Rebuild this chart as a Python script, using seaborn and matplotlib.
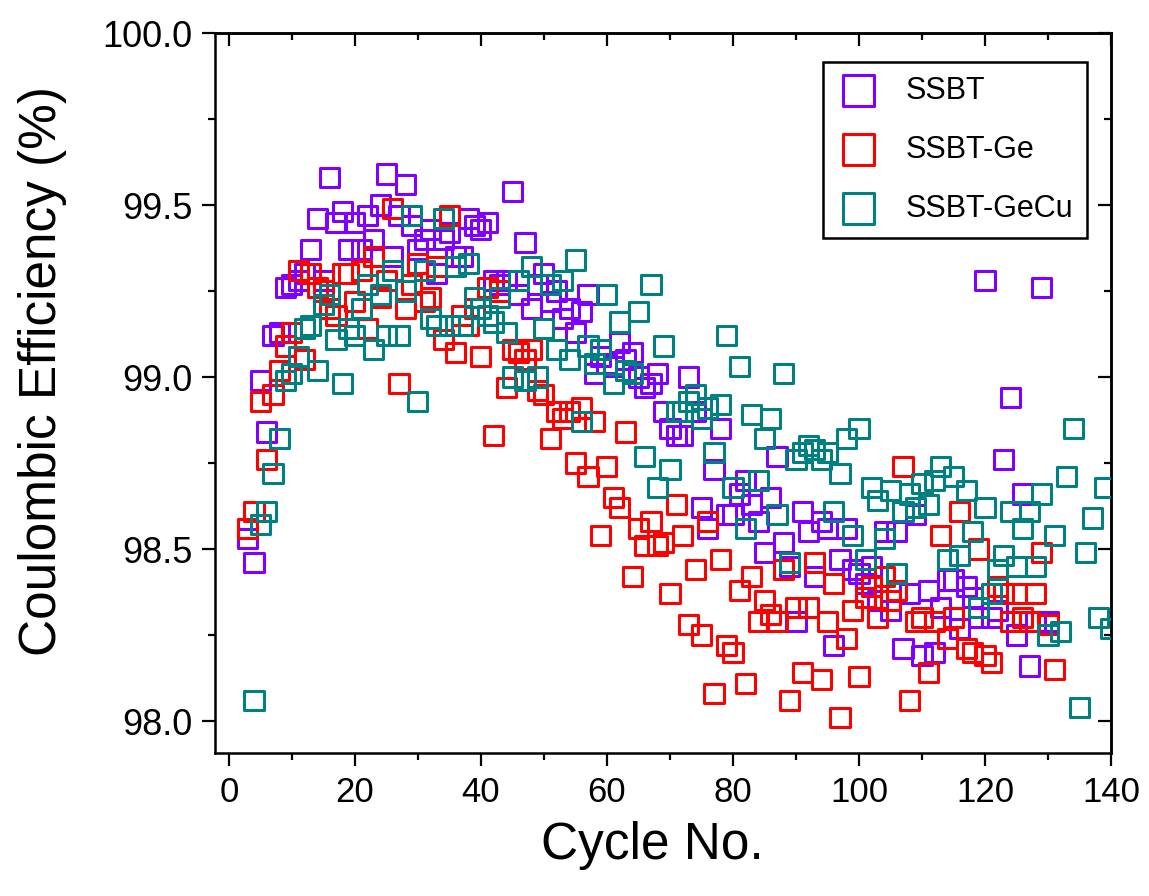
import numpy as np
import pandas as pd
import matplotlib
matplotlib.use("Agg")
import matplotlib.pyplot as plt
from matplotlib.ticker import MultipleLocator, FormatStrFormatter
import seaborn as sns

# Coulombic efficiency (%) per cycle; each list starts at the given cycle number
ssbt_start = 3
ssbt_ce = [
    98.53, 98.46, 98.99, 98.84, 99.12, 99.13, 99.26, 99.27, 99.28, 99.30,   # 3-12
    99.37, 99.46, 99.28, 99.58, 99.45, 99.48, 99.37, 99.45, 99.37, 99.47,   # 13-22
    99.40, 99.50, 99.59, 99.35, 99.47, 99.56, 99.44, 99.37, 99.40, 99.43,   # 23-32
    99.30, 99.40, 99.42, 99.35, 99.35, 99.46, 99.44, 99.43, 99.45, 99.28,   # 33-42
    99.27, 99.28, 99.54, 99.24, 99.39, 99.20, 99.27, 99.30, 99.22, 99.25,   # 43-52
    99.17, 99.20, 99.13, 99.19, 99.24, 99.01, 99.06, 99.04, 99.03, 99.10,   # 53-62
    99.05, 99.07, 99.00, 98.97, 98.98, 99.01, 98.90, 98.85, 98.83, 98.83,   # 63-72
    99.00, 98.90, 98.62, 98.56, 98.73, 98.85, 98.60, 98.60, 98.66, 98.70,   # 73-82
    98.63, 98.58, 98.49, 98.65, 98.77, 98.52, 98.45, 98.29, 98.61, 98.55,   # 83-92
    98.42, 98.58, 98.56, 98.22, 98.47, 98.56, 98.44, 98.43, 98.40, 98.45,   # 93-102
    98.35, 98.55, 98.32, 98.55, 98.21, 98.37, 98.60, 98.19, 98.38, 98.20,   # 103-112
    98.33, 98.41, 98.41, 98.27, 98.39, 98.36, 98.30, 99.28, 98.30, 98.32,   # 113-122
    98.76, 98.94, 98.25, 98.66, 98.16, 98.29, 99.26, 98.29,                 # 123-130
]

ge_start = 3
ge_ce = [
    98.56, 98.61, 98.93, 98.76, 98.95, 99.02, 99.09, 99.13, 99.31, 99.05,   # 3-12
    99.30, 99.26, 99.25, 99.20, 99.18, 99.30, 99.30, 99.22, 99.31, 99.14,   # 13-22
    99.35, 99.23, 99.28, 99.49, 98.98, 99.20, 99.27, 99.33, 99.22, 99.23,   # 23-32
    99.32, 99.11, 99.47, 99.07, 99.18, 99.15, 99.20, 99.06, 99.26, 98.83,   # 33-42
    99.25, 98.97, 99.08, 99.07, 99.05, 99.08, 98.96, 98.95, 98.82, 98.90,   # 43-52
    98.88, 98.90, 98.75, 98.91, 98.71, 98.87, 98.54, 98.74, 98.65, 98.62,   # 53-62
    98.84, 98.42, 98.56, 98.51, 98.58, 98.51, 98.52, 98.37, 98.63, 98.54,   # 63-72
    98.28, 98.44, 98.25, 98.58, 98.08, 98.47, 98.22, 98.20, 98.38, 98.11,   # 73-82
    98.42, 98.29, 98.35, 98.31, 98.29, 98.44, 98.06, 98.33, 98.14, 98.33,   # 83-92
    98.46, 98.12, 98.29, 98.40, 98.01, 98.24, 98.32, 98.13, 98.36, 98.39,   # 93-102
    98.30, 98.42, 98.35, 98.38, 98.74, 98.06, 98.29, 98.30, 98.14, 98.29,   # 103-112
    98.54, 98.24, 98.30, 98.61, 98.21, 98.20, 98.50, 98.19, 98.17, 98.39,   # 113-122
    98.37, 98.29, 98.37, 98.30, 98.29, 98.37, 98.49, 98.28, 98.15,          # 123-131
]

gecu_start = 4
gecu_ce = [
    98.06, 98.57, 98.61, 98.72, 98.82, 98.99, 99.01, 99.06, 99.14, 99.15,   # 4-13
    99.02, 99.21, 99.24, 99.11, 98.98, 99.14, 99.12, 99.20, 99.27, 99.08,   # 14-23
    99.24, 99.12, 99.31, 99.12, 99.25, 99.47, 98.93, 99.31, 99.17, 99.15,   # 24-33
    99.46, 99.15, 99.32, 99.15, 99.33, 99.23, 99.20, 99.18, 99.16, 99.23,   # 34-43
    99.13, 99.00, 99.28, 98.99, 99.32, 99.00, 99.14, 99.27, 99.08, 99.28,   # 44-53
    99.05, 99.34, 98.87, 99.09, 99.04, 99.08, 99.24, 98.98, 99.16, 99.02,   # 54-63
    99.01, 99.19, 98.77, 99.27, 98.68, 99.09, 98.73, 98.90, 98.90, 98.93,   # 64-73
    98.95, 98.88, 98.91, 98.78, 98.92, 99.12, 98.68, 99.03, 98.56, 98.89,   # 74-83
    98.70, 98.82, 98.88, 98.60, 99.01, 98.46, 98.76, 98.78, 98.80, 98.79,   # 84-93
    98.76, 98.78, 98.61, 98.72, 98.82, 98.54, 98.85, 98.47, 98.68, 98.64,   # 94-103
    98.53, 98.67, 98.43, 98.61, 98.66, 98.62, 98.69, 98.63, 98.70, 98.74,   # 104-113
    98.47, 98.71, 98.48, 98.67, 98.55, 98.33, 98.62, 98.37, 98.44, 98.48,   # 114-123
    98.61, 98.45, 98.56, 98.61, 98.45, 98.66, 98.25, 98.54, 98.26, 98.71,   # 124-133
    98.85, 98.04, 98.49, 98.59, 98.30, 98.68, 98.27,                        # 134-140
]

series_names = ["SSBT", "SSBT-Ge", "SSBT-GeCu"]
series_starts = [ssbt_start, ge_start, gecu_start]
series_values = [ssbt_ce, ge_ce, gecu_ce]
series_colors = ["#8000FF", "#FF0000", "#008080"]

x_ticks = [0, 20, 40, 60, 80, 100, 120, 140]
y_ticks = [98.0, 98.5, 99.0, 99.5, 100.0]

frames = []
for name, start, vals in zip(series_names, series_starts, series_values):
    frames.append(pd.DataFrame({
        "Cycle": np.arange(start, start + len(vals)),
        "CE": vals,
        "Sample": name,
    }))
df = pd.concat(frames, ignore_index=True)

sns.set_style("ticks")
plt.rcParams["font.family"] = ["Liberation Sans", "DejaVu Sans"]
plt.rcParams["text.color"] = "black"
plt.rcParams["axes.labelcolor"] = "black"
plt.rcParams["xtick.color"] = "black"
plt.rcParams["ytick.color"] = "black"

W, H = 1149, 896
fig = plt.figure(figsize=(W / 100, H / 100), dpi=100)
fig.patch.set_facecolor("white")
ax = fig.add_axes([215 / W, (H - 753) / H, 896 / W, 720 / H])
ax.set_facecolor("white")

for name, color in zip(series_names, series_colors):
    sub = df[df["Sample"] == name]
    sns.scatterplot(data=sub, x="Cycle", y="CE", ax=ax, marker="s", s=190,
                    facecolor="none", edgecolor=color, linewidth=2.2,
                    label=name, zorder=3)

ax.set_xlim(-2.2, 140)
ax.set_ylim(97.907, 100.0)
ax.set_xticks(x_ticks)
ax.set_yticks(y_ticks)
ax.xaxis.set_minor_locator(MultipleLocator(10))
ax.yaxis.set_minor_locator(MultipleLocator(0.25))
ax.yaxis.set_major_formatter(FormatStrFormatter("%.1f"))

for sp in ax.spines.values():
    sp.set_visible(True)
    sp.set_linewidth(1.8)
    sp.set_color("black")

ax.tick_params(axis="both", which="major", direction="out", length=9.4, width=1.6,
               color="black", labelcolor="black", pad=7)
ax.tick_params(axis="both", which="minor", direction="out", length=5, width=1.6,
               color="black")
ax.tick_params(axis="y", labelsize=26)
ax.tick_params(axis="x", labelsize=25)

# inward ticks on the top and right frame edges
sec_x = ax.secondary_xaxis("top")
sec_x.set_xticks(x_ticks)
sec_x.xaxis.set_minor_locator(MultipleLocator(10))
sec_x.tick_params(which="major", direction="in", length=9.4, width=1.6,
                  labeltop=False, color="black")
sec_x.tick_params(which="minor", direction="in", length=5, width=1.6, color="black")
sec_x.spines["top"].set_linewidth(1.8)
sec_x.spines["top"].set_color("black")

sec_y = ax.secondary_yaxis("right")
sec_y.set_yticks(y_ticks)
sec_y.yaxis.set_minor_locator(MultipleLocator(0.25))
sec_y.tick_params(which="major", direction="in", length=9.4, width=1.6,
                  labelright=False, color="black")
sec_y.tick_params(which="minor", direction="in", length=5, width=1.6, color="black")
sec_y.spines["right"].set_linewidth(1.8)
sec_y.spines["right"].set_color("black")

ax.set_xlabel("Cycle No.", fontsize=37, color="black")
ax.set_ylabel("Coulombic Efficiency (%)", fontsize=37, color="black")
ax.xaxis.set_label_coords(0.488, -0.095)
ax.yaxis.set_label_coords(-0.165, 0.53)

leg = ax.legend(loc="upper right", bbox_to_anchor=(1087 / W, 1 - 62 / H),
                bbox_transform=fig.transFigure, borderaxespad=0,
                frameon=True, fancybox=False, edgecolor="black", framealpha=1,
                fontsize=22, markerscale=1.6, handlelength=1.4,
                handletextpad=0.85, labelspacing=0.95, borderpad=0.45)
leg.get_frame().set_linewidth(1.8)
for txt in leg.get_texts():
    txt.set_color("black")

fig.savefig("out.png", dpi=100, facecolor="white")
